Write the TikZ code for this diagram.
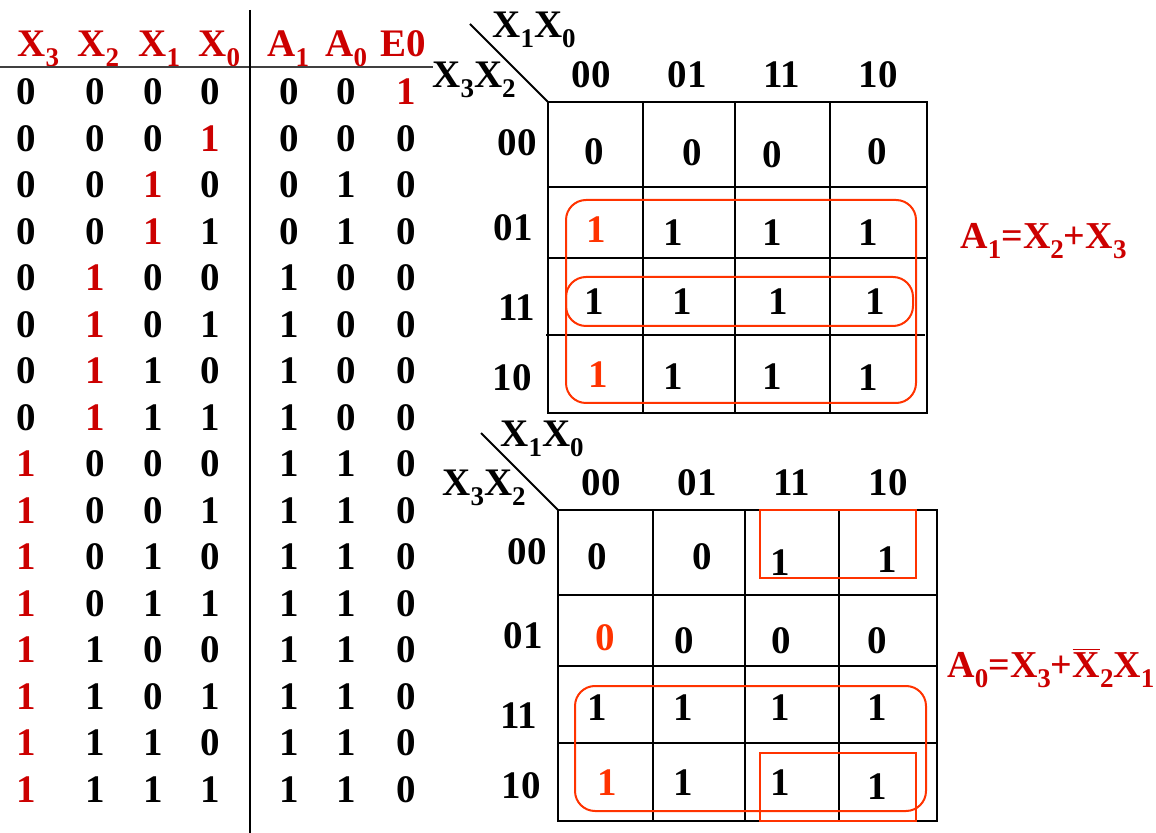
\documentclass[tikz,border=0pt]{standalone}
\usepackage{fontspec}
\setmainfont{Liberation Serif}
\definecolor{tabred}{RGB}{204,0,0}
\definecolor{mapred}{RGB}{255,51,0}
\newcommand{\lo}[1]{\raisebox{-5pt}{\fontsize{13.5}{15}\selectfont #1}}
\newcommand{\rd}[1]{\textcolor{tabred}{#1}}
\newcommand{\mr}[1]{\textcolor{mapred}{#1}}
\tikzset{
    txt/.style={inner sep=0pt, font=\fontsize{19.5}{22}\selectfont\bfseries},
    eqn/.style={txt, anchor=base west, tabred, font=\fontsize{19}{22}\selectfont\bfseries},
    grid/.style={line width=1.3pt},
    box/.style={draw=mapred, line width=1pt},
    group/.style={box, rounded corners=10pt},
}

\begin{document}
\begin{tikzpicture}[x=0.5pt, y=-0.5pt]
                \useasboundingbox (0,0) rectangle (1156,833);

                % truth table
                \node[txt, anchor=base west, tabred] (hx3) at (17,57) {X\lo3};
                \node[txt, anchor=base west, tabred] (hx2) at (77,57) {X\lo2};
                \node[txt, anchor=base west, tabred] (hx1) at (138,57) {X\lo1};
                \node[txt, anchor=base west, tabred] (hx0) at (198,57) {X\lo0};
                \node[txt, anchor=base west, tabred] (ha1) at (267,57) {A\lo1};
                \node[txt, anchor=base west, tabred] (ha0) at (325,57) {A\lo0};
                \node[txt, anchor=base west, tabred] (he0) at (380,57) {E0};
                \draw[line width=0.8pt, black!75] (0,67) -- (433,67);
                \draw[line width=0.8pt] (250,10) -- (250,833);

                \foreach \a/\b/\c/\d/\e/\f/\g [count=\i from 0] in {
                    0/0/0/0/0/0/\rd1, 0/0/0/\rd1/0/0/0, 0/0/\rd1/0/0/1/0, 0/0/\rd1/1/0/1/0,
                    0/\rd1/0/0/1/0/0, 0/\rd1/0/1/1/0/0, 0/\rd1/1/0/1/0/0, 0/\rd1/1/1/1/0/0,
                    \rd1/0/0/0/1/1/0, \rd1/0/0/1/1/1/0, \rd1/0/1/0/1/1/0, \rd1/0/1/1/1/1/0,
                    \rd1/1/0/0/1/1/0, \rd1/1/0/1/1/1/0, \rd1/1/1/0/1/1/0, \rd1/1/1/1/1/1/0}
                {
                    \node[txt] (x3r\i) at (26,92+46.5*\i) {\a};
                    \node[txt] (x2r\i) at (95,92+46.5*\i) {\b};
                    \node[txt] (x1r\i) at (153,92+46.5*\i) {\c};
                    \node[txt] (x0r\i) at (210,92+46.5*\i) {\d};
                    \node[txt] (a1r\i) at (289,92+46.5*\i) {\e};
                    \node[txt] (a0r\i) at (346,92+46.5*\i) {\f};
                    \node[txt] (e0r\i) at (406,92+46.5*\i) {\g};
                }

                % map for A1
                \draw[line width=1pt] (470,24) -- (548,102);
                \node[txt, anchor=base west] (acol) at (492,38) {X\lo1X\lo0};
                \node[txt, anchor=base west] (arow) at (432,88) {X\lo3X\lo2};
                \node[txt, anchor=base] (ac0) at (591,88) {00};
                \node[txt, anchor=base] (ac1) at (687,88) {01};
                \node[txt, anchor=base] (ac2) at (782,88) {11};
                \node[txt, anchor=base] (ac3) at (878,88) {10};
                \node[txt] (ar0) at (517,143) {00};
                \node[txt] (ar1) at (513,228) {01};
                \node[txt] (ar2) at (517,308) {11};
                \node[txt] (ar3) at (512,378) {10};

                \draw[grid] (548,102) rectangle (927,413);
                \draw[grid] (643,102) -- (643,413) (735,102) -- (735,413) (830,102) -- (830,413);
                \draw[grid] (548,187) -- (927,187) (548,258) -- (927,258) (546,335) -- (925,335);

                \node[txt] (a00) at (594,152) {0};
                \node[txt] (a01) at (692,153) {0};
                \node[txt] (a02) at (772,155) {0};
                \node[txt] (a03) at (877,152) {0};
                \node[txt] (a10) at (596,230) {\mr1};
                \node[txt] (a11) at (673,233) {1};
                \node[txt] (a12) at (772,233) {1};
                \node[txt] (a13) at (868,233) {1};
                \node[txt] (a20) at (594,302) {1};
                \node[txt] (a21) at (682,302) {1};
                \node[txt] (a22) at (778,302) {1};
                \node[txt] (a23) at (875,302) {1};
                \node[txt] (a30) at (598,375) {\mr1};
                \node[txt] (a31) at (673,377) {1};
                \node[txt] (a32) at (772,377) {1};
                \node[txt] (a33) at (868,378) {1};

                \draw[group] (566,200) rectangle (916,403);
                \draw[group] (566,277) rectangle (913,326);

                \node[eqn] (eqa1) at (960,249) {A\lo1=X\lo2+X\lo3};

                % map for A0
                \draw[line width=1pt] (481,433) -- (558,510);
                \node[txt, anchor=base west] (bcol) at (500,447) {X\lo1X\lo0};
                \node[txt, anchor=base west] (brow) at (442,496) {X\lo3X\lo2};
                \node[txt, anchor=base] (bc0) at (601,496) {00};
                \node[txt, anchor=base] (bc1) at (697,496) {01};
                \node[txt, anchor=base] (bc2) at (792,496) {11};
                \node[txt, anchor=base] (bc3) at (888,496) {10};
                \node[txt] (br0) at (527,552) {00};
                \node[txt] (br1) at (523,636) {01};
                \node[txt] (br2) at (519,716) {11};
                \node[txt] (br3) at (521,786) {10};

                \draw[grid] (558,510) rectangle (937,821);
                \draw[grid] (653,510) -- (653,821) (745,510) -- (745,821) (839,510) -- (839,821);
                \draw[grid] (558,595) -- (937,595) (558,666) -- (937,666) (558,743) -- (937,743);

                \node[txt] (b00) at (597,557) {0};
                \node[txt] (b01) at (702,557) {0};
                \node[txt] (b02) at (780,563) {1};
                \node[txt] (b03) at (887,560) {1};
                \node[txt] (b10) at (605,638) {\mr0};
                \node[txt] (b11) at (684,641) {0};
                \node[txt] (b12) at (781,641) {0};
                \node[txt] (b13) at (877,641) {0};
                \node[txt] (b20) at (597,708) {1};
                \node[txt] (b21) at (683,708) {1};
                \node[txt] (b22) at (780,708) {1};
                \node[txt] (b23) at (877,708) {1};
                \node[txt] (b30) at (607,783) {\mr1};
                \node[txt] (b31) at (683,783) {1};
                \node[txt] (b32) at (780,783) {1};
                \node[txt] (b33) at (877,787) {1};

                \draw[box] (760,510) rectangle (916,578);
                \draw[box] (760,753) rectangle (916,821);
                \draw[group] (575,686) rectangle (926,811);

                \node[eqn] (eqa0) at (947,677) {A\lo0=X\lo3+$\overline{\mbox{X}}$\lo2X\lo1};
\end{tikzpicture}
\end{document}
